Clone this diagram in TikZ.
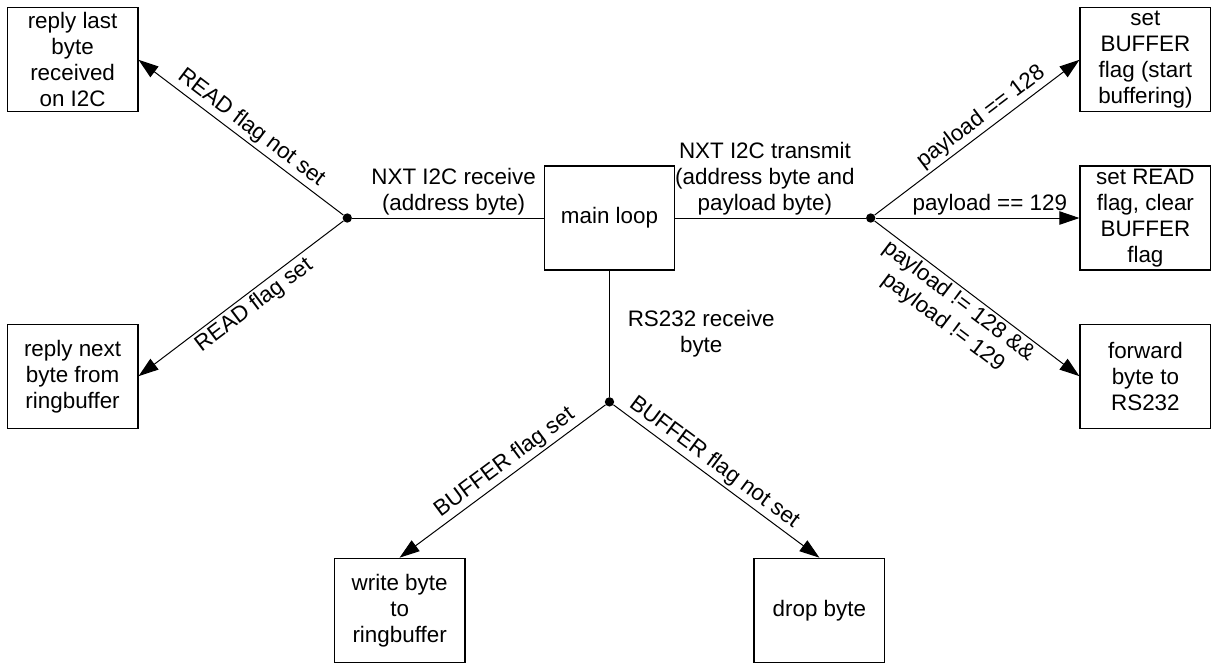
\documentclass[tikz,border=0pt]{standalone}
\usepackage{fontspec}
\setmainfont{Liberation Sans}
\usetikzlibrary{arrows.meta, positioning}

\begin{document}
\begin{tikzpicture}[
  font=\fontsize{16.8pt}{19.5pt}\selectfont,
  block/.style={draw, rectangle, line width=0.9pt, inner sep=0pt,
                minimum width=98pt, minimum height=78pt, align=center},
  junction/.style={circle, fill, inner sep=0pt, minimum size=7pt},
  line/.style={line width=0.75pt},
  arr/.style={-{Triangle[length=15pt, width=10pt]}, line width=0.75pt},
  lbl/.style={inner sep=2pt},
]
\useasboundingbox (-457.1pt,-334.5pt) rectangle (451.1pt,163.5pt);

\node[block] (main) {main loop};
\node[junction, left=143.5pt of main]  (i2crx) {};
\node[junction, right=142.75pt of main] (i2ctx) {};
\node[junction, below=94.75pt of main]  (rsrx)  {};

\node[block, above left=39.75pt and 303.75pt of main]  (lastbyte) {reply last\\byte\\received\\on I2C};
\node[block, below left=39.75pt and 303.75pt of main]  (nextbyte) {reply next\\byte from\\ringbuffer};
\node[block, right=303pt of main]                       (setread)  {set READ\\flag, clear\\BUFFER\\flag};
\node[block, above right=39.75pt and 303pt of main]    (setbuf)   {set\\BUFFER\\flag (start\\buffering)};
\node[block, below right=39.75pt and 303pt of main]    (fwd)      {forward\\byte to\\RS232};
\node[block, below left=215.25pt and 58.5pt of main]   (wrbuf)    {write byte\\to\\ringbuffer};
\node[block, below right=215.25pt and 58.5pt of main]  (drop)     {drop byte};

\draw[line] (main) -- node[lbl, above, align=center, pos=0.47]{NXT I2C receive\\(address byte)} (i2crx);
\draw[line] (main) -- node[lbl, above, align=center, pos=0.47]{NXT I2C transmit\\(address byte and\\payload byte)} (i2ctx);
\draw[line] (main) -- node[right=10pt, align=center]{RS232 receive\\byte} (rsrx);

\draw[arr] (i2crx) -- node[lbl, sloped, above, pos=0.49]{READ flag not set} (lastbyte.east);
\draw[arr] (i2crx) -- node[lbl, sloped, below, pos=0.475]{READ flag set} (nextbyte.east);
\draw[arr] (i2ctx) -- node[lbl, sloped, above, pos=0.56]{payload == 128} (setbuf.west);
\draw[arr] (i2ctx) -- node[lbl, above, pos=0.56]{payload == 129} (setread.west);
\draw[arr] (i2ctx) -- node[lbl, sloped, below, pos=0.45, align=center]{payload != 128 \&\&\\payload != 129} (fwd.west);
\draw[arr] (rsrx)  -- node[lbl, sloped, above, pos=0.45]{BUFFER flag set} (wrbuf.north);
\draw[arr] (rsrx)  -- node[lbl, sloped, above, pos=0.45]{BUFFER flag not set} (drop.north);
\end{tikzpicture}
\end{document}
